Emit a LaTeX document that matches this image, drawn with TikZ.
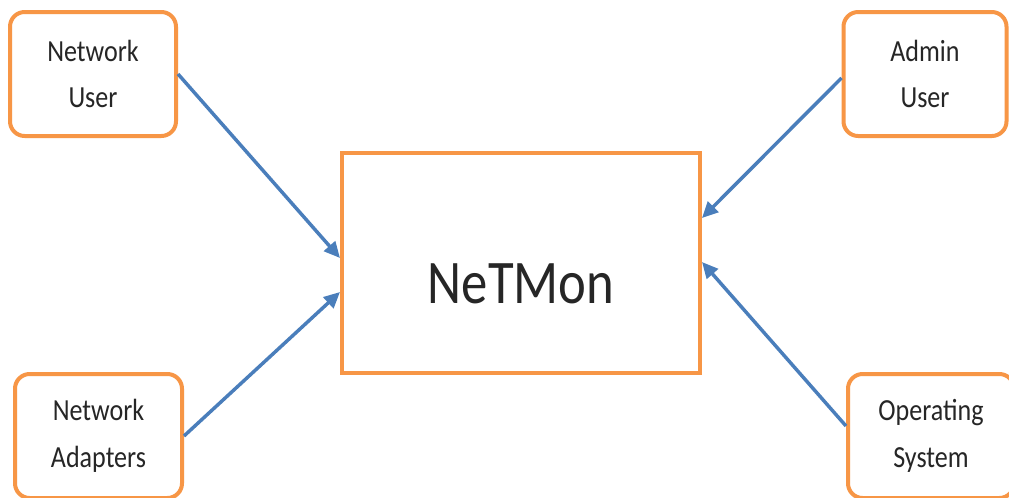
\documentclass[tikz,border=0pt]{standalone}
\usepackage{fontspec}
\setmainfont{Carlito}[FakeStretch=0.85]
\usetikzlibrary{arrows.meta,calc}
\definecolor{boxorange}{HTML}{F79646}
\definecolor{arrowblue}{HTML}{4A7EBB}
\definecolor{txt}{HTML}{262626}
\tikzset{
  actor/.style={draw=boxorange, line width=3pt, rounded corners=11pt, fill=white,
    align=center, text=txt, font=\fontsize{23}{35}\selectfont, inner sep=0pt},
  mainbox/.style={draw=boxorange, line width=3pt, fill=white},
  maintext/.style={text=txt, font=\fontsize{46.5}{50}\selectfont, inner sep=0pt},
  flow/.style={draw=arrowblue, line width=2.6pt, -{Triangle[length=12pt,width=11pt]}}
}
\begin{document}
\begin{tikzpicture}[x=0.75pt,y=-0.75pt]
\useasboundingbox (0,0) rectangle (1009,497);
\clip (0,0) rectangle (1009,497);
\fill[white] (0,0) rectangle (1009,497);
\node[actor, minimum width=166*0.75pt, minimum height=124*0.75pt] (nu) at (93,74) {Network\\User};
\node[actor, minimum width=163*0.75pt, minimum height=124*0.75pt] (au) at (925,74) {Admin\\User};
\node[actor, minimum width=167*0.75pt, minimum height=124*0.75pt] (na) at (98.5,436) {Network\\Adapters};
\node[actor, minimum width=166*0.75pt, minimum height=124*0.75pt] (os) at (931,436) {Operating\\System};
\node[mainbox, minimum width=358*0.75pt, minimum height=220*0.75pt] (m) at (521,263) {};
\node[maintext] (mt) at (521,284) {NeTMon};
\draw[flow] (nu.east) -- ($(m.west)+(0,-5)$);
\draw[flow] (na.east) -- ($(m.west)+(0,29)$);
\draw[flow] ($(au.west)+(0,4)$) -- ($(m.east)+(0,-45)$);
\draw[flow] ($(os.west)+(0,-10)$) -- ($(m.east)+(0,-1)$);
\end{tikzpicture}
\end{document}
